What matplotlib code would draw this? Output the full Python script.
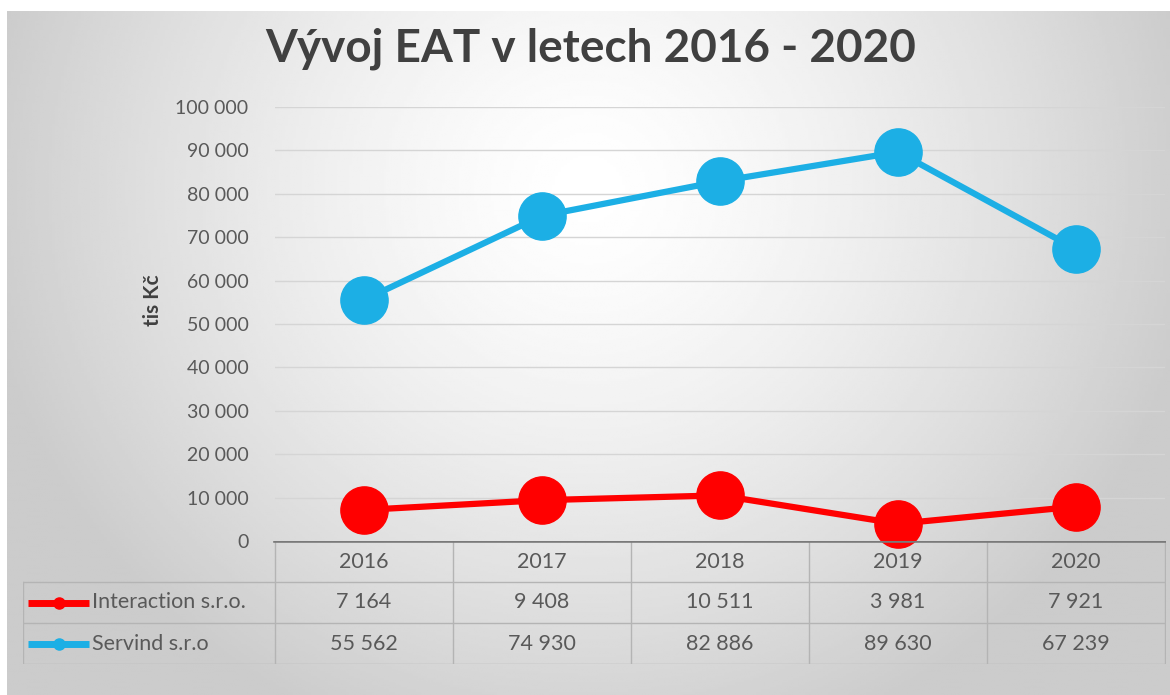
import numpy as np
import matplotlib.pyplot as plt
from matplotlib.lines import Line2D

years = ["2016", "2017", "2018", "2019", "2020"]
interaction = [7164, 9408, 10511, 3981, 7921]
servind = [55562, 74930, 82886, 89630, 67239]
series_names = ["Interaction s.r.o.", "Servind s.r.o"]
series_colors = ["#FF0000", "#1CAFE5"]
yticks = list(range(0, 100001, 10000))

W, H = 1170, 695
txt = "#595959"
plt.rcParams["font.family"] = ["Lato", "DejaVu Sans"]


def fmt(v):
    return f"{v:,}".replace(",", " ")


fig = plt.figure(figsize=(W / 100, H / 100), dpi=100)
fig.patch.set_facecolor("white")

# radial grey gradient behind everything
bg = fig.add_axes([7 / W, 0, 1 - 7 / W, 1 - 11 / H])
gx, gy = np.meshgrid(np.linspace(-1, 1, 400), np.linspace(-0.35, 1.0, 300))
r = np.sqrt((gx / 1.05) ** 2 + (gy / 1.15) ** 2)
shade = 1.0 - 0.2 * np.clip(r, 0, 1) ** 1.4
bg.imshow(shade, cmap="gray", vmin=0, vmax=1, aspect="auto", extent=[0, 1, 0, 1],
          origin="upper", interpolation="bilinear")
bg.set_axis_off()

# main plot area
ax = fig.add_axes([275 / W, 1 - 541 / H, 890 / W, 434 / H])
ax.patch.set_alpha(0)
x = np.arange(len(years))
ax.set_xlim(-0.5, len(years) - 0.5)
ax.set_ylim(0, 100000)
ax.set_yticks(yticks)
ax.set_yticklabels([fmt(t) for t in yticks], color=txt, fontsize=14)
ax.set_xticks([])
ax.tick_params(axis="y", length=0, pad=19)
for t in yticks[1:]:
    ax.axhline(t, color="#d5d5d5", lw=1, zorder=1)
for s in ax.spines.values():
    s.set_visible(False)

for vals, col in zip([interaction, servind], series_colors):
    ax.plot(x, vals, color=col, lw=4.5, marker="o", markersize=34, zorder=3,
            clip_on=False, solid_capstyle="round")

fig.text(153 / W, 1 - 300 / H, "tis Kč", rotation=90, ha="center", va="center",
         fontsize=15, fontweight="bold", color="#404040")
fig.text(591 / W, 1 - 49 / H, "Vývoj EAT v letech 2016 - 2020", ha="center", va="center",
         fontsize=33, fontweight="bold", color="#404040")

# data table under the plot
left = -0.5 - (275 - 23) / 178
tab = fig.add_axes([23 / W, 1 - 664 / H, (1166 - 23) / W, 123 / H])
tab.patch.set_alpha(0)
tab.set_xlim(left, len(years) - 0.5 + 1 / 178)
tab.set_ylim(3, 0)
tab.set_axis_off()
grid_c = "#b4b4b4"
for yy in [1, 2, 3]:
    tab.plot([left, len(years) - 0.5], [yy, yy], color=grid_c, lw=1)
tab.plot([-0.5, len(years) - 0.5], [0, 0], color="#7a7a7a", lw=2.6, zorder=5)
tab.plot([left, left], [1, 3], color=grid_c, lw=1)
for k in range(len(years) + 1):
    tab.plot([k - 0.5, k - 0.5], [0, 3], color=grid_c, lw=1)

for i, yr in enumerate(years):
    tab.text(i, 0.5, yr, ha="center", va="center", fontsize=15.5, color=txt)
for row, (name, vals, col) in enumerate(zip(series_names, [interaction, servind], series_colors), 1):
    yy = row + 0.5
    tab.add_line(Line2D([left + 0.03, left + 0.37], [yy, yy], color=col, lw=5,
                        solid_capstyle="butt"))
    tab.plot([left + 0.2], [yy], marker="o", markersize=8, color=col)
    tab.text(left + 0.39, yy, name, ha="left", va="center", fontsize=15.5, color=txt)
    for i, v in enumerate(vals):
        tab.text(i, yy, fmt(v), ha="center", va="center", fontsize=15.5, color=txt)

fig.savefig("out.png", dpi=100)
